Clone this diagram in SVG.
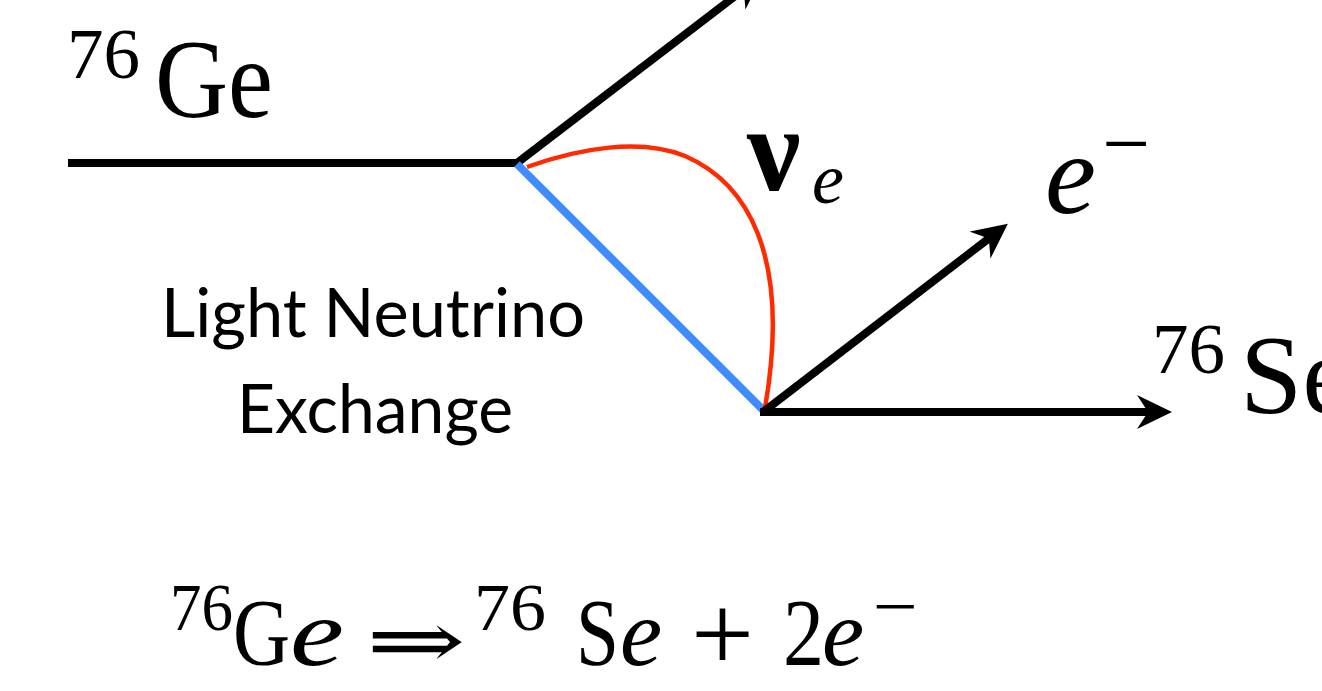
<svg xmlns="http://www.w3.org/2000/svg" width="1322" height="691" viewBox="0 0 1322 691">
<style>
.serif{font-family:"Liberation Serif","DejaVu Serif",serif;fill:#000}
.it{font-style:italic}
.sans{font-family:Lato,"Open Sans","Liberation Sans",sans-serif;fill:#000}
.blk{stroke:#000;stroke-width:8;fill:none}
</style>
<defs>
<marker id="ah" markerUnits="userSpaceOnUse" viewBox="0 -18 36 36" markerWidth="36" markerHeight="36" refX="15" refY="0" orient="auto">
<path d="M0,-17 L35,0 L0,17 L11,0 Z" fill="#000"/>
</marker>
</defs>
<rect width="1322" height="691" fill="#fff"/>
<g id="connectors">
<line class="blk" x1="68" y1="163" x2="519" y2="163"/>
<line class="blk" x1="517" y1="163" x2="747" y2="-13" marker-end="url(#ah)"/>
<line x1="517" y1="164" x2="763" y2="410" stroke="#3F8CFF" stroke-width="8"/>
<path d="M527,167 C580,148 640,138 685,156 C745,182 792,252 765,408" fill="none" stroke="#FF2A00" stroke-width="4.5"/>
<line class="blk" x1="763" y1="412" x2="992" y2="236" marker-end="url(#ah)"/>
<line class="blk" x1="760" y1="412" x2="1152" y2="412" marker-end="url(#ah)"/>
</g>
<g id="ge-label">
<text class="serif" x="67" y="78" font-size="71" textLength="73" lengthAdjust="spacingAndGlyphs">76</text>
<text class="serif" x="155" y="117" font-size="112" textLength="118" lengthAdjust="spacingAndGlyphs">Ge</text>
</g>
<g id="nu-label">
<text class="serif" x="747" y="190" font-size="120" font-weight="bold">ν</text>
<text class="serif it" x="812" y="203" font-size="72">e</text>
</g>
<g id="electron-label">
<text class="serif it" x="1045" y="213" font-size="115">e</text>
<text class="serif" x="1102" y="172" font-size="85" textLength="48" lengthAdjust="spacingAndGlyphs">−</text>
</g>
<g id="se-label">
<text class="serif" x="1152" y="373" font-size="71" textLength="73" lengthAdjust="spacingAndGlyphs">76</text>
<text class="serif" x="1240" y="413" font-size="112">Se</text>
</g>
<g id="exchange-label">
<text class="sans" x="373" y="337" font-size="68" text-anchor="middle" textLength="424" lengthAdjust="spacingAndGlyphs">Light Neutrino</text>
<text class="sans" x="375" y="433" font-size="68" text-anchor="middle" textLength="276" lengthAdjust="spacingAndGlyphs">Exchange</text>
</g>
<g id="equation">
<text class="serif" x="170" y="630" font-size="67" textLength="63" lengthAdjust="spacingAndGlyphs">76</text>
<text class="serif" x="233" y="665" font-size="95" textLength="57" lengthAdjust="spacingAndGlyphs">G</text>
<text class="serif it" x="290" y="665" font-size="95" textLength="54" lengthAdjust="spacingAndGlyphs">e</text>
<text class="serif" x="366" y="668" font-size="80" textLength="100" lengthAdjust="spacingAndGlyphs">⇒</text>
<text class="serif" x="474" y="630" font-size="67" textLength="72" lengthAdjust="spacingAndGlyphs">76</text>
<text class="serif" x="576" y="665" font-size="95" textLength="43" lengthAdjust="spacingAndGlyphs">S</text>
<text class="serif it" x="620" y="665" font-size="95">e</text>
<text class="serif" x="691" y="671" font-size="110" textLength="63" lengthAdjust="spacingAndGlyphs">+</text>
<text class="serif" x="783" y="665" font-size="95" textLength="41" lengthAdjust="spacingAndGlyphs">2</text>
<text class="serif it" x="822" y="665" font-size="95">e</text>
<text class="serif" x="873" y="629" font-size="67" textLength="45" lengthAdjust="spacingAndGlyphs">−</text>
</g>
</svg>
